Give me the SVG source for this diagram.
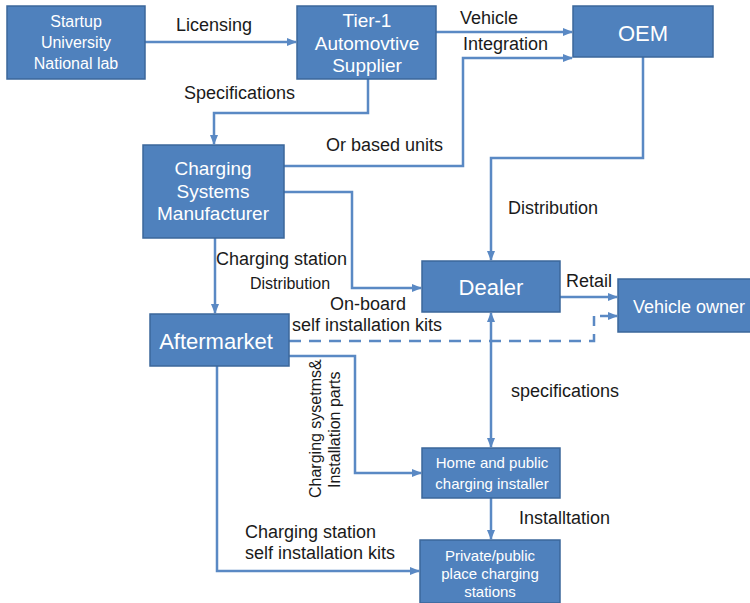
<svg xmlns="http://www.w3.org/2000/svg" width="750" height="603" viewBox="0 0 750 603">
<style>
.box{fill:#4f81bd;stroke:#3b679b;stroke-width:1.5}
.nt{fill:#ffffff;font-family:"Liberation Sans",Arial,sans-serif;text-anchor:middle}
.lb{fill:#1a1a1a;font-family:"Liberation Sans",Arial,sans-serif;font-size:18px}
.sm{font-size:16px}
.vt{font-size:16px}
.ln{fill:none;stroke:#5a89c4;stroke-width:2.5}
.dash{stroke-dasharray:12,8}
</style>
<defs>
<marker id="ah" viewBox="0 0 10 10" refX="9" refY="5" markerWidth="4" markerHeight="4" orient="auto-start-reverse" markerUnits="strokeWidth">
<path d="M0,1 L10,5 L0,9 z" fill="#5a89c4"/>
</marker>
</defs>
<rect width="750" height="603" fill="#ffffff"/>
<g id="connectors">
<path class="ln" d="M145,42 H296" marker-end="url(#ah)"/>
<path class="ln" d="M436,32 H572" marker-end="url(#ah)"/>
<path class="ln" d="M284,166 H463 V58 H572" marker-end="url(#ah)"/>
<path class="ln" d="M368,79 V113 H214 V144" marker-end="url(#ah)"/>
<path class="ln" d="M643,57 V158 H491 V260" marker-end="url(#ah)"/>
<path class="ln" d="M284,192 H352 V288 H421" marker-end="url(#ah)"/>
<path class="ln" d="M215,238 V313" marker-end="url(#ah)"/>
<path class="ln" d="M560,297 H617" marker-end="url(#ah)"/>
<path class="ln dash" d="M289,341 H594 V316"/>
<path class="ln" d="M600,316 H617" marker-end="url(#ah)"/>
<path class="ln" d="M491,313 V447" marker-start="url(#ah)" marker-end="url(#ah)"/>
<path class="ln" d="M289,356 H355 V473 H421" marker-end="url(#ah)"/>
<path class="ln" d="M217,366 V571 H419" marker-end="url(#ah)"/>
<path class="ln" d="M491,498 V539" marker-end="url(#ah)"/>
</g>
<g id="startup">
<rect class="box" x="7" y="6" width="138" height="73"/>
<text class="nt" font-size="16" x="76"><tspan x="76" y="27">Startup</tspan><tspan x="76" y="48">University</tspan><tspan x="76" y="69">National lab</tspan></text>
</g>
<g id="tier1">
<rect class="box" x="297" y="6" width="139" height="73"/>
<text class="nt" font-size="19" x="367"><tspan x="367" y="27">Tier-1</tspan><tspan x="367" y="50">Automovtive</tspan><tspan x="367" y="72">Supplier</tspan></text>
</g>
<g id="oem">
<rect class="box" x="573" y="6" width="140" height="51"/>
<text class="nt" font-size="22" x="643" y="41">OEM</text>
</g>
<g id="csm">
<rect class="box" x="143" y="145" width="141" height="93"/>
<text class="nt" font-size="19" x="213"><tspan x="213" y="175">Charging</tspan><tspan x="213" y="198">Systems</tspan><tspan x="213" y="220">Manufacturer</tspan></text>
</g>
<g id="dealer">
<rect class="box" x="422" y="261" width="138" height="51"/>
<text class="nt" font-size="22" x="491" y="295">Dealer</text>
</g>
<g id="owner">
<rect class="box" x="618" y="279" width="134" height="53"/>
<text class="nt" font-size="18" x="689" y="313">Vehicle owner</text>
</g>
<g id="aftermarket">
<rect class="box" x="150" y="314" width="139" height="52"/>
<text class="nt" font-size="22" x="216" y="349">Aftermarket</text>
</g>
<g id="installer">
<rect class="box" x="422" y="448" width="138" height="50"/>
<text class="nt" font-size="15" x="492"><tspan x="492" y="468">Home and public</tspan><tspan x="492" y="489">charging installer</tspan></text>
</g>
<g id="stations">
<rect class="box" x="420" y="540" width="140" height="63"/>
<text class="nt" font-size="15" x="490"><tspan x="490" y="561">Private/public</tspan><tspan x="490" y="579">place charging</tspan><tspan x="490" y="597">stations</tspan></text>
</g>
<g id="labels">
<text class="lb" x="176" y="31">Licensing</text>
<text class="lb" x="460" y="24">Vehicle</text>
<text class="lb" x="463" y="50">Integration</text>
<text class="lb" x="184" y="99">Specifications</text>
<text class="lb" x="326" y="151">Or based units</text>
<text class="lb" x="508" y="214">Distribution</text>
<text class="lb" x="216" y="265">Charging station</text>
<text class="lb sm" x="250" y="289">Distribution</text>
<text class="lb" x="330" y="310">On-board</text>
<text class="lb" x="292" y="331">self installation kits</text>
<text class="lb" x="566" y="287">Retail</text>
<text class="lb" x="511" y="397">specifications</text>
<text class="lb" x="519" y="524">Installtation</text>
<text class="lb" x="245" y="538">Charging station</text>
<text class="lb" x="245" y="559">self installation kits</text>
<text class="lb vt" transform="translate(321,498) rotate(-90)">Charging sysetms&amp;</text>
<text class="lb vt" transform="translate(340,488) rotate(-90)">Installation parts</text>
</g>
</svg>
